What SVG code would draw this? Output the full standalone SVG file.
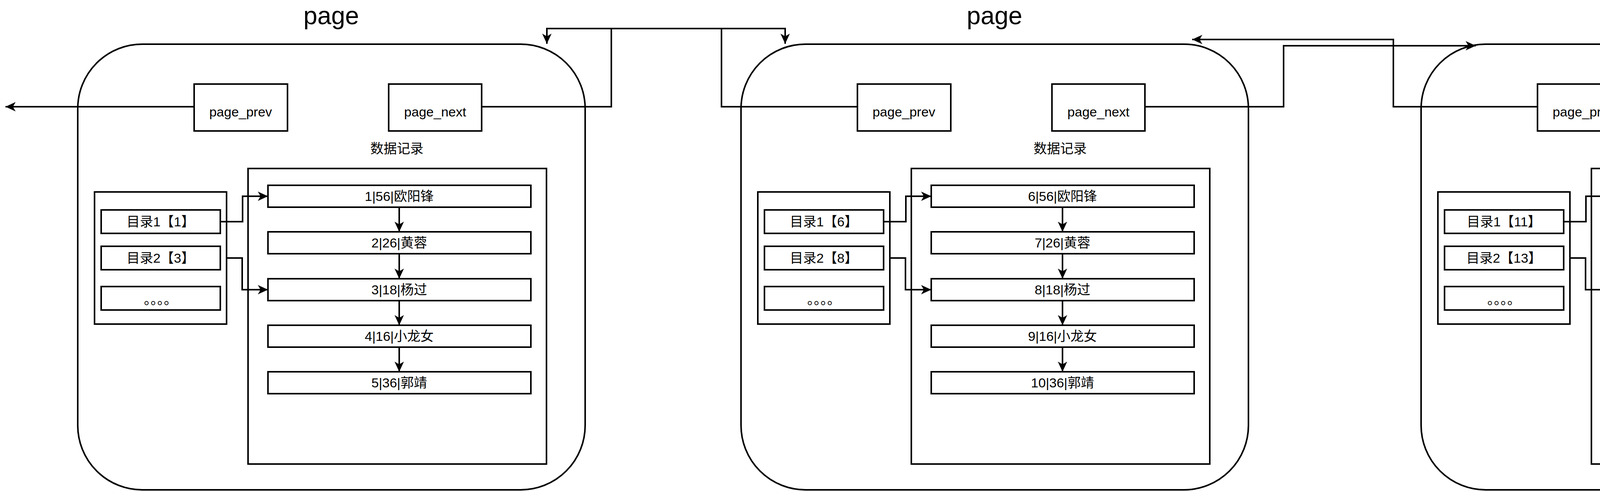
<svg xmlns="http://www.w3.org/2000/svg" width="5198" height="1256" viewBox="0 0 5198 1256">
<style>
.pg{fill:#fff;stroke:#000;stroke-width:4}
.bx{fill:#fff;stroke:#000;stroke-width:4}
.t{font-family:"Liberation Sans","Noto Sans CJK SC",sans-serif;fill:#000;text-anchor:middle}
.ttl{font-size:64px}
.s{font-size:34px}
.c{fill:none;stroke:#000;stroke-width:4}
</style>
<defs>
<marker id="ah" markerUnits="userSpaceOnUse" markerWidth="30" markerHeight="30" refX="26" refY="12" orient="auto" viewBox="0 0 30 24">
<path d="M0,0 L26,12 L0,24 L7,12 Z" fill="#000"/>
</marker>
<g id="pagebody">
<rect class="pg" x="199" y="113" width="1299" height="1140" rx="165" ry="165"/>
<rect class="bx" x="497" y="215" width="239" height="120"/>
<text class="t s" x="616" y="298">page_prev</text>
<rect class="bx" x="995" y="215" width="238" height="120"/>
<text class="t s" x="1114" y="298">page_next</text>
<text class="t s" x="1016" y="392">数据记录</text>
<rect class="bx" x="635" y="431" width="764" height="756"/>
<rect class="bx" x="242" y="491" width="338" height="338"/>
<rect class="bx" x="259" y="537" width="305" height="60"/>
<rect class="bx" x="259" y="630" width="305" height="60"/>
<rect class="bx" x="259" y="733" width="305" height="60"/>
<text class="t s" x="411" y="778">。。。。</text>
<rect class="bx" x="686" y="474" width="673" height="56"/>
<rect class="bx" x="686" y="593" width="673" height="56"/>
<rect class="bx" x="686" y="713" width="673" height="56"/>
<rect class="bx" x="686" y="832" width="673" height="56"/>
<rect class="bx" x="686" y="951" width="673" height="56"/>
<path class="c" marker-end="url(#ah)" d="M564 567 H621 V502 H686"/>
<path class="c" marker-end="url(#ah)" d="M580 660 H620 V741 H686"/>
<path class="c" marker-end="url(#ah)" d="M1022 530 V593"/>
<path class="c" marker-end="url(#ah)" d="M1022 649 V713"/>
<path class="c" marker-end="url(#ah)" d="M1022 769 V832"/>
<path class="c" marker-end="url(#ah)" d="M1022 888 V951"/>
</g>
</defs>
<g id="page1">
<use href="#pagebody"/>
<text class="t ttl" x="848" y="62">page</text>
<text class="t s" x="411" y="579">目录1【1】</text>
<text class="t s" x="411" y="672">目录2【3】</text>
<text class="t s" x="1022" y="514">1|56|欧阳锋</text>
<text class="t s" x="1022" y="633">2|26|黄蓉</text>
<text class="t s" x="1022" y="753">3|18|杨过</text>
<text class="t s" x="1022" y="872">4|16|小龙女</text>
<text class="t s" x="1022" y="991">5|36|郭靖</text>
</g>
<g id="page2" transform="translate(1698,0)">
<use href="#pagebody"/>
<text class="t ttl" x="848" y="62">page</text>
<text class="t s" x="411" y="579">目录1【6】</text>
<text class="t s" x="411" y="672">目录2【8】</text>
<text class="t s" x="1022" y="514">6|56|欧阳锋</text>
<text class="t s" x="1022" y="633">7|26|黄蓉</text>
<text class="t s" x="1022" y="753">8|18|杨过</text>
<text class="t s" x="1022" y="872">9|16|小龙女</text>
<text class="t s" x="1022" y="991">10|36|郭靖</text>
</g>
<g id="page3" transform="translate(3439,0)">
<use href="#pagebody"/>
<text class="t ttl" x="848" y="62">page</text>
<text class="t s" x="411" y="579">目录1【11】</text>
<text class="t s" x="411" y="672">目录2【13】</text>
<text class="t s" x="1022" y="514">11|56|欧阳锋</text>
<text class="t s" x="1022" y="633">12|26|黄蓉</text>
<text class="t s" x="1022" y="753">13|18|杨过</text>
<text class="t s" x="1022" y="872">14|16|小龙女</text>
<text class="t s" x="1022" y="991">15|36|郭靖</text>
</g>
<g id="connectors">
<path class="c" marker-end="url(#ah)" d="M497 273 H14"/>
<path class="c" marker-end="url(#ah)" d="M1233 273 H1565 V73 H2010 V112"/>
<path class="c" marker-end="url(#ah)" d="M2195 273 H1847 V73 H1400 V112"/>
<path class="c" marker-end="url(#ah)" d="M2931 273 H3286 V117 H3778"/>
<path class="c" marker-end="url(#ah)" d="M3936 273 H3567 V101 H3052"/>
<path class="c" marker-end="url(#ah)" d="M4672 273 H5178"/>
</g>
<text x="5188" y="1205" font-family="Liberation Sans,Noto Sans CJK SC,sans-serif" font-size="92" fill="#000" fill-opacity="0.18" text-anchor="end">CSDN @桀桀桀桀桀桀</text>
</svg>
